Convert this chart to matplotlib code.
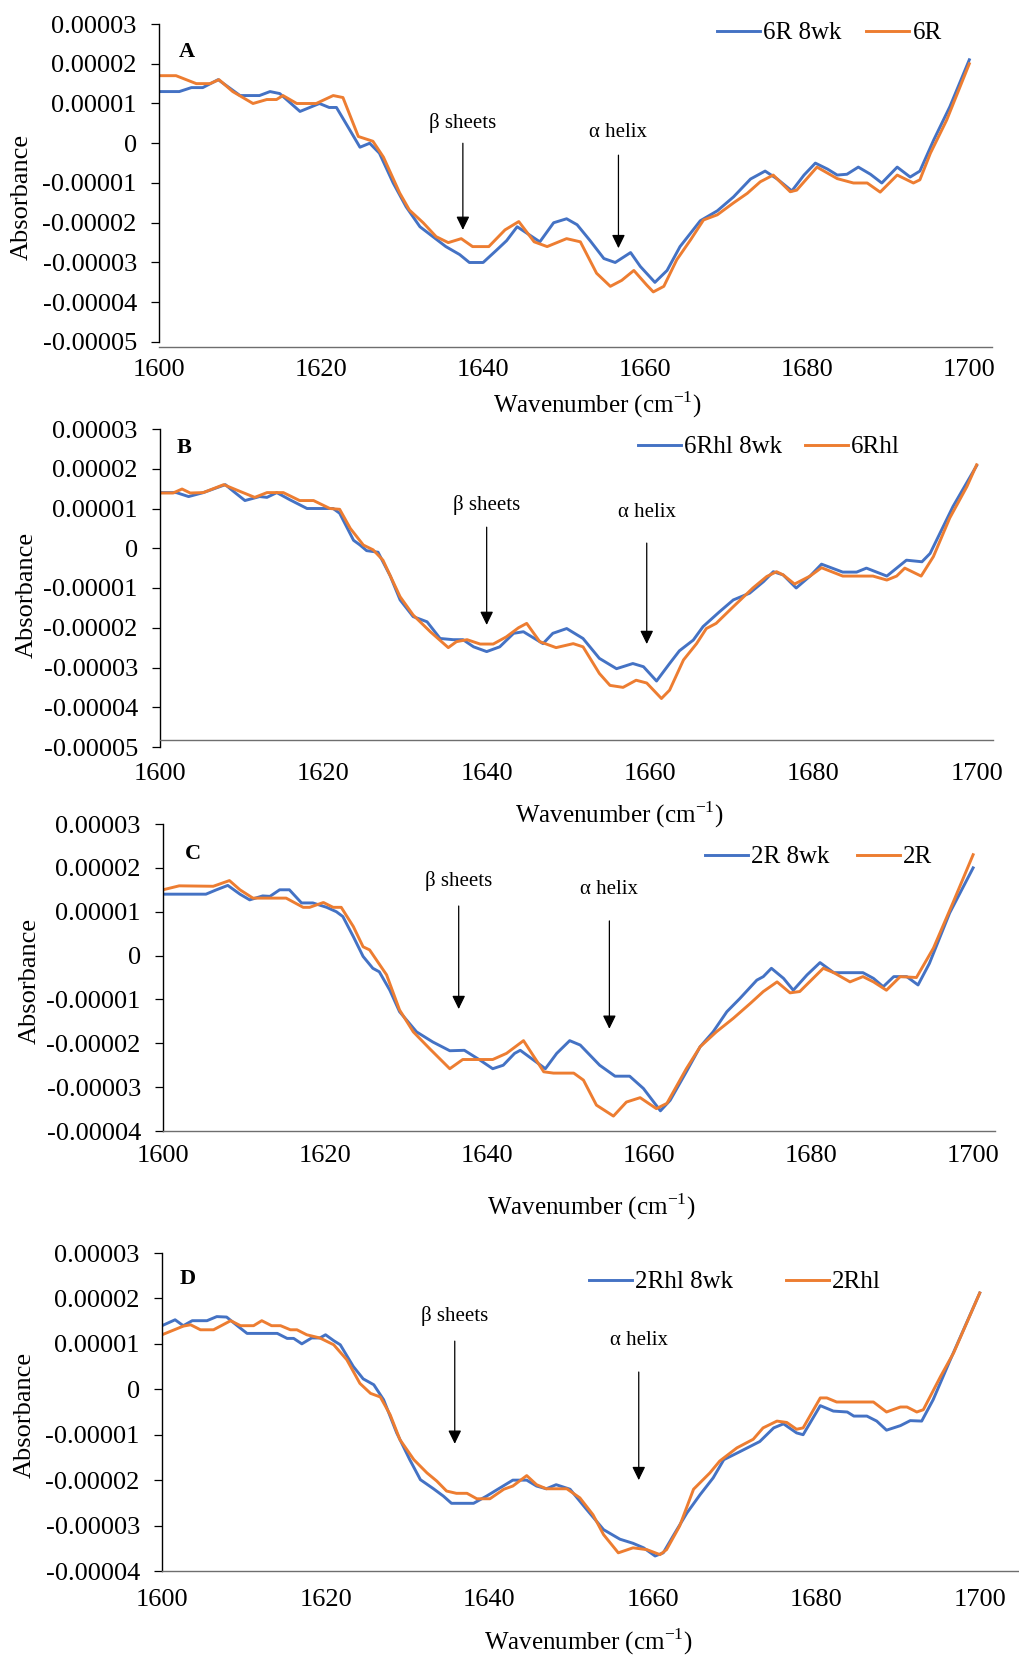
import numpy as np
import matplotlib
matplotlib.use("Agg")
import matplotlib.pyplot as plt

plt.rcParams['font.family'] = ['Liberation Serif', 'DejaVu Serif']
plt.rcParams['mathtext.fontset'] = 'custom'
plt.rcParams['mathtext.rm'] = 'Liberation Serif'

BLUE = '#4472C4'
ORANGE = '#ED7D31'
SCALE = 1e-5  # values below are in units of 1e-5

# panel A: 6R 8wk (blue) vs 6R (orange)
a_x_blue = [1600, 1602.5, 1604, 1605.4, 1607.3, 1610, 1612.4, 1613.7, 1614.9, 1617.4, 1619.8, 1621, 1621.9,
            1623.5, 1624.8, 1626, 1627.2, 1628.9, 1630.5, 1632.2, 1633.8, 1635.4, 1637.1, 1638.3, 1640,
            1641.6, 1642.9, 1644.2, 1647, 1648.7, 1650.3, 1651.6, 1653.2, 1654.9, 1656.3, 1658.2, 1659.4,
            1661.2, 1662.7, 1664.3, 1666.8, 1668.9, 1670.9, 1673, 1674.8, 1676.3, 1678.1, 1679.6, 1681,
            1682.5, 1683.7, 1684.9, 1686.3, 1687.8, 1689.2, 1691.1, 1692.7, 1693.9, 1695.6, 1697.6, 1700]
a_y_blue = [1.3, 1.3, 1.4, 1.4, 1.6, 1.2, 1.2, 1.3, 1.25, 0.8, 1.0, 0.9, 0.9,
            0.35, -0.1, 0.0, -0.25, -1.0, -1.6, -2.1, -2.35, -2.6, -2.8, -3.0, -3.0,
            -2.7, -2.45, -2.1, -2.48, -2.0, -1.9, -2.05, -2.45, -2.9, -3.0, -2.75, -3.1,
            -3.5, -3.2, -2.6, -1.95, -1.7, -1.35, -0.9, -0.7, -0.9, -1.2, -0.8, -0.5,
            -0.65, -0.8, -0.78, -0.6, -0.78, -1.0, -0.6, -0.85, -0.7, 0.08, 0.92, 2.1]
a_x_orange = [1600, 1602.1, 1604.6, 1606.3, 1607.4, 1609.1, 1611.6, 1613.3, 1614.5, 1615.3, 1617, 1619.4,
              1621.5, 1622.7, 1624.6, 1626.4, 1627.7, 1629.7, 1630.9, 1632.6, 1634.2, 1635.7, 1637.3,
              1638.7, 1640.7, 1642.7, 1644.4, 1646.3, 1647.9, 1650.3, 1652, 1654, 1655.7, 1657.1, 1658.6,
              1660.2, 1661, 1662.3, 1663.9, 1665.6, 1667.2, 1668.9, 1670.9, 1672.6, 1674.2, 1675.8,
              1677.9, 1678.7, 1681.2, 1683.7, 1685.7, 1687.4, 1689, 1691.1, 1693.1, 1693.9, 1695.2,
              1697.2, 1700]
a_y_orange = [1.7, 1.7, 1.5, 1.5, 1.6, 1.3, 1.0, 1.1, 1.1, 1.2, 1.0, 1.0,
              1.2, 1.15, 0.17, 0.05, -0.35, -1.25, -1.68, -2.0, -2.35, -2.5, -2.4,
              -2.6, -2.6, -2.18, -1.97, -2.48, -2.6, -2.4, -2.48, -3.27, -3.6, -3.45, -3.2,
              -3.57, -3.74, -3.6, -2.93, -2.43, -1.93, -1.8, -1.5, -1.26, -0.97, -0.8,
              -1.22, -1.18, -0.6, -0.89, -1.0, -1.0, -1.23, -0.8, -1.0, -0.92, -0.25,
              0.58, 2.0]

# panel B: 6Rhl 8wk (blue) vs 6Rhl (orange)
b_x_blue = [1600, 1602, 1603.5, 1605.3, 1608, 1609, 1610.4, 1612.2, 1613.1, 1614.3, 1615.9, 1618, 1621.2,
            1622, 1623.7, 1624.5, 1625.3, 1626.7, 1628.2, 1629.4, 1631, 1632.7, 1634.3, 1635.9, 1637.1,
            1638.4, 1640, 1641.6, 1643.3, 1644.5, 1646.9, 1648.1, 1649.8, 1651.8, 1653.8, 1655.9,
            1657.9, 1659.2, 1660.8, 1662.4, 1663.6, 1665.3, 1666.5, 1668.5, 1670.2, 1672.2, 1673.9,
            1675.1, 1676.3, 1677.9, 1679.6, 1681, 1683.6, 1685.3, 1686.5, 1689, 1691.4, 1693.3,
            1694.3, 1697.1, 1700]
b_y_blue = [1.4, 1.4, 1.3, 1.4, 1.6, 1.43, 1.2, 1.3, 1.28, 1.4, 1.22, 1.0, 1.0,
            0.88, 0.2, 0.08, -0.06, -0.1, -0.7, -1.3, -1.72, -1.85, -2.27, -2.3, -2.3,
            -2.48, -2.6, -2.48, -2.14, -2.1, -2.4, -2.14, -2.02, -2.27, -2.77, -3.03,
            -2.9, -2.98, -3.34, -2.9, -2.58, -2.31, -1.97, -1.6, -1.3, -1.13, -0.84,
            -0.59, -0.67, -1.0, -0.7, -0.4, -0.6, -0.6, -0.5, -0.7, -0.3, -0.34,
            -0.13, 1.05, 2.08]
b_x_orange = [1600, 1601.6, 1602.7, 1603.7, 1605.3, 1607.8, 1609.8, 1611.6, 1613.1, 1615.1, 1617.1,
              1618.8, 1620.8, 1622, 1623.3, 1624.9, 1626.1, 1627.3, 1629.4, 1631, 1633.1, 1635.3,
              1636.3, 1637.6, 1639.2, 1640.8, 1642.4, 1643.9, 1644.9, 1646.5, 1648.5, 1650.6, 1651.8,
              1653.8, 1655.1, 1656.7, 1658.3, 1659.6, 1661.4, 1662.4, 1664.1, 1665.7, 1666.9, 1668.1,
              1670.2, 1672.6, 1674.3, 1675.5, 1676.3, 1677.7, 1679.6, 1681, 1683.6, 1687.3, 1689,
              1690.2, 1691.2, 1693.2, 1694.7, 1696.7, 1698.8, 1700]
b_y_orange = [1.39, 1.39, 1.49, 1.39, 1.4, 1.6, 1.43, 1.28, 1.4, 1.4, 1.2,
              1.2, 1.0, 0.98, 0.5, 0.08, -0.04, -0.3, -1.22, -1.68, -2.1, -2.5,
              -2.35, -2.3, -2.41, -2.41, -2.23, -2.0, -1.89, -2.35, -2.5, -2.4, -2.48,
              -3.15, -3.45, -3.5, -3.32, -3.39, -3.78, -3.57, -2.81, -2.4, -2.02, -1.89,
              -1.47, -1.0, -0.71, -0.59, -0.67, -0.9, -0.7, -0.49, -0.7, -0.7, -0.8,
              -0.7, -0.5, -0.7, -0.21, 0.76, 1.55, 2.1]

# panel C: 2R 8wk (blue) vs 2R (orange)
c_x_blue = [1600, 1605.3, 1606.6, 1608, 1609.5, 1610.7, 1612.3, 1613.2, 1614.4, 1615.6, 1617.1, 1618.5,
            1620.2, 1621.4, 1622.2, 1623.5, 1624.7, 1625.9, 1626.7, 1628, 1629.2, 1631.3, 1633.3,
            1635.4, 1637.2, 1639.1, 1640.7, 1642, 1643.4, 1644.1, 1647.2, 1648.6, 1650.2, 1651.5,
            1653.9, 1655.8, 1657.6, 1659.3, 1661.4, 1662.6, 1664.6, 1666.3, 1667.9, 1669.6, 1671.2,
            1673.3, 1674.1, 1675.1, 1676.6, 1677.8, 1679.5, 1681.1, 1682.8, 1686.4, 1687.7, 1688.9,
            1690.2, 1691.8, 1693.2, 1694.6, 1697.1, 1700]
c_y_blue = [1.4, 1.4, 1.5, 1.6, 1.4, 1.27, 1.36, 1.35, 1.5, 1.5, 1.2, 1.2,
            1.1, 1.0, 0.89, 0.43, -0.02, -0.29, -0.37, -0.79, -1.28, -1.74, -1.97,
            -2.17, -2.16, -2.38, -2.58, -2.5, -2.23, -2.16, -2.58, -2.23, -1.94, -2.04,
            -2.5, -2.75, -2.75, -3.03, -3.54, -3.3, -2.65, -2.08, -1.74, -1.28, -0.98,
            -0.56, -0.48, -0.29, -0.52, -0.79, -0.44, -0.16, -0.39, -0.39, -0.52, -0.71,
            -0.48, -0.48, -0.67, -0.18, 0.97, 2.0]
c_x_orange = [1600, 1602, 1606.2, 1608.2, 1609.5, 1611.1, 1612.8, 1615.2, 1617.3, 1618.1, 1619.8, 1621,
              1622, 1623.5, 1624.7, 1625.5, 1627.6, 1629.2, 1630.9, 1632.9, 1635.4, 1637, 1638.7,
              1640.7, 1642.4, 1644.5, 1647, 1648.2, 1650.7, 1651.9, 1653.5, 1655.6, 1657.2, 1658.9,
              1660.9, 1662.2, 1664.6, 1666.3, 1668.3, 1670.4, 1672.5, 1674.1, 1675.8, 1677.4, 1678.6,
              1681.5, 1682.8, 1684.8, 1686.4, 1687.7, 1689.3, 1691, 1693, 1695.1, 1697.5, 1700]
c_y_orange = [1.5, 1.59, 1.58, 1.71, 1.5, 1.31, 1.31, 1.31, 1.1, 1.1, 1.21, 1.1,
              1.1, 0.66, 0.2, 0.13, -0.44, -1.24, -1.74, -2.12, -2.58, -2.37, -2.37,
              -2.37, -2.23, -1.94, -2.65, -2.68, -2.68, -2.84, -3.41, -3.66, -3.34, -3.24,
              -3.49, -3.37, -2.58, -2.08, -1.74, -1.43, -1.09, -0.82, -0.6, -0.85, -0.82,
              -0.29, -0.39, -0.6, -0.48, -0.6, -0.79, -0.48, -0.5, 0.17, 1.2, 2.3]

# panel D: 2Rhl 8wk (blue) vs 2Rhl (orange)
d_x_blue = [1600, 1601.6, 1602.6, 1603.7, 1605.5, 1606.7, 1607.9, 1609.2, 1610.4, 1614.1, 1615.3, 1616.1,
            1617.1, 1618.3, 1619.3, 1620, 1621, 1621.8, 1623.4, 1624.6, 1625.9, 1627.1, 1628.7, 1630.3,
            1631.6, 1633.2, 1634.4, 1635.4, 1638.1, 1639.7, 1641.8, 1642.9, 1644.6, 1645.8, 1647,
            1648.2, 1649.9, 1651.9, 1654, 1656, 1657.6, 1658.9, 1660.3, 1661.3, 1662.5, 1664.2,
            1665.8, 1667.4, 1668.7, 1670.7, 1673.1, 1674.8, 1676, 1677.6, 1678.4, 1680.5, 1682.1,
            1683.8, 1684.6, 1686.2, 1687.4, 1688.6, 1690.3, 1691.5, 1692.9, 1694.3, 1696.4, 1700]
d_y_blue = [1.4, 1.53, 1.4, 1.51, 1.51, 1.6, 1.59, 1.4, 1.23, 1.23, 1.12, 1.12,
            1.0, 1.13, 1.13, 1.2, 1.07, 0.98, 0.5, 0.23, 0.1, -0.23, -0.96, -1.55,
            -1.99, -2.19, -2.35, -2.51, -2.51, -2.35, -2.12, -2.0, -2.0, -2.13, -2.19,
            -2.1, -2.2, -2.64, -3.09, -3.3, -3.39, -3.49, -3.67, -3.6, -3.23, -2.72,
            -2.32, -1.95, -1.55, -1.37, -1.15, -0.85, -0.76, -0.96, -1.0, -0.36, -0.48,
            -0.5, -0.59, -0.59, -0.7, -0.9, -0.8, -0.69, -0.7, -0.23, 0.65, 2.12]
d_x_orange = [1600, 1602.6, 1603.5, 1604.7, 1606.3, 1608.4, 1609.6, 1611.2, 1612.2, 1613.4, 1614.5,
              1615.7, 1616.5, 1617.7, 1619.3, 1621, 1622.6, 1624.2, 1625.5, 1626.7, 1627.9, 1629.1,
              1630.8, 1632.4, 1633.6, 1634.8, 1636, 1637.3, 1638.5, 1640.1, 1641.8, 1642.9, 1644.6,
              1645.8, 1647, 1649.5, 1651.1, 1652.7, 1654, 1655.8, 1657.6, 1659.3, 1660.9, 1661.7,
              1663.3, 1665, 1667, 1668.2, 1670.3, 1672.3, 1673.5, 1675.2, 1676.4, 1677.6, 1678.4,
              1680.5, 1681.3, 1682.5, 1687, 1688.6, 1690.3, 1691.1, 1692.3, 1693.1, 1695.2, 1696.8, 1700]
d_y_orange = [1.2, 1.39, 1.42, 1.31, 1.31, 1.51, 1.4, 1.4, 1.51, 1.4, 1.4,
              1.31, 1.31, 1.2, 1.13, 0.98, 0.65, 0.13, -0.09, -0.17, -0.56, -1.11,
              -1.55, -1.84, -2.02, -2.24, -2.29, -2.29, -2.41, -2.41, -2.2, -2.13, -1.9,
              -2.1, -2.19, -2.19, -2.39, -2.76, -3.2, -3.6, -3.49, -3.53, -3.64, -3.53,
              -3.01, -2.2, -1.84, -1.58, -1.29, -1.1, -0.85, -0.7, -0.73, -0.88, -0.85,
              -0.19, -0.19, -0.28, -0.28, -0.5, -0.39, -0.39, -0.5, -0.45, 0.28, 0.8, 2.12]

labels_blue = ['6R 8wk', '6Rhl 8wk', '2R 8wk', '2Rhl 8wk']
labels_orange = ['6R', '6Rhl', '2R', '2Rhl']
letters = ['A', 'B', 'C', 'D']
yticks_ab = [3, 2, 1, 0, -1, -2, -3, -4, -5]
yticks_cd = [3, 2, 1, 0, -1, -2, -3, -4]
xticks = [1600, 1620, 1640, 1660, 1680, 1700]

W, H = 1019, 1659
fig = plt.figure(figsize=(W / 100, H / 100), dpi=100)
fig.patch.set_facecolor('white')

# pixel layout for each panel
panels = [
    dict(L=159, R=992, T=24, B=347, xmax=1702.8, ylo=-5.126, yticks=yticks_ab, xspine=None, xpad=9,
         data=(a_x_blue, a_y_blue, a_x_orange, a_y_orange),
         leg=(717, 33, 1.0), ylab=(22, 197), xlab=(597, 405), letter=(187, 52),
         beta=(1637.5, 0.5, 0.0, -2.18), alpha=(1656.7, 0.28, -0.3, -2.64)),
    dict(L=160, R=993, T=429, B=747, xmax=1702.0, ylo=-5.0, yticks=yticks_ab, xspine=-4.82, xpad=17,
         data=(b_x_blue, b_y_blue, b_x_orange, b_y_orange),
         leg=(638, 447, 0.9), ylab=(27, 595), xlab=(619, 815), letter=(184, 448),
         beta=(1640.0, 1.09, 0.53, -1.93), alpha=(1659.6, 0.89, 0.13, -2.41)),
    dict(L=163, R=995, T=824, B=1131, xmax=1702.7, ylo=-4.0, yticks=yticks_cd, xspine=None, xpad=10,
         data=(c_x_blue, c_y_blue, c_x_orange, c_y_orange),
         leg=(705, 857, 1.1), ylab=(30, 981), xlab=(591, 1207), letter=(193, 854),
         beta=(1636.5, 1.70, 1.13, -1.22), alpha=(1655.1, 1.50, 0.79, -1.67)),
    dict(L=162, R=1019, T=1253, B=1571, xmax=1704.8, ylo=-4.0, yticks=yticks_cd, xspine=None, xpad=13,
         data=(d_x_blue, d_y_blue, d_x_orange, d_y_orange),
         leg=(589, 1282, 2.1), ylab=(25, 1415), xlab=(588, 1642), letter=(188, 1279),
         beta=(1635.8, 1.61, 1.06, -1.20), alpha=(1658.3, 1.08, 0.38, -2.0)),
]

TICK_FS = 19
LABEL_FS = 18
LEG_FS = 18
NOTE_FS = 15
for i, p in enumerate(panels):
    ax = fig.add_axes([p['L'] / W, 1 - p['B'] / H, (p['R'] - p['L']) / W, (p['B'] - p['T']) / H])

    # spines first: moving a spine resets the tick styling
    for s in ['top', 'right']:
        ax.spines[s].set_visible(False)
    if p['xspine'] is not None:
        ax.spines['bottom'].set_position(('data', p['xspine'] * SCALE))
    ax.spines['left'].set_linewidth(1.0)
    ax.spines['left'].set_color('black')
    ax.spines['bottom'].set_color('#6e6e6e')
    ax.spines['bottom'].set_linewidth(1.0)
    ax.set_facecolor('none')

    xb, yb, xo, yo = p['data']
    ax.plot(xb, np.array(yb) * SCALE, color=BLUE, lw=2.1, label=labels_blue[i], solid_joinstyle='round')
    ax.plot(xo, np.array(yo) * SCALE, color=ORANGE, lw=2.1, label=labels_orange[i], solid_joinstyle='round')
    ax.set_xlim(1600, p['xmax'])
    ax.set_ylim(p['ylo'] * SCALE, 3 * SCALE)
    ax.spines['left'].set_bounds(p['yticks'][-1] * SCALE, 3 * SCALE)

    ax.set_yticks([v * SCALE for v in p['yticks']])
    ax.set_yticklabels(['0' if v == 0 else '%.5f' % (v * SCALE) for v in p['yticks']], fontsize=TICK_FS)
    ax.set_xticks(xticks)
    ax.set_xticklabels([str(v) for v in xticks], fontsize=TICK_FS)
    ax.tick_params(axis='y', direction='out', length=6, width=0.9, pad=10, color='black')
    ax.tick_params(axis='x', length=0, pad=p['xpad'])

    # structure annotations
    bx, bt, bs, btip = p['beta']
    ax.text(bx, bt * SCALE, '\u03b2 sheets', ha='center', va='center', fontsize=NOTE_FS)
    ax.annotate('', xy=(bx, btip * SCALE), xytext=(bx, bs * SCALE),
                arrowprops=dict(arrowstyle='-|>,head_length=0.45,head_width=0.22', color='black',
                                lw=0.9, mutation_scale=18, shrinkA=0, shrinkB=0))
    hx, ht, hs, htip = p['alpha']
    ax.text(hx, ht * SCALE, '\u03b1 helix', ha='center', va='center', fontsize=NOTE_FS)
    ax.annotate('', xy=(hx, htip * SCALE), xytext=(hx, hs * SCALE),
                arrowprops=dict(arrowstyle='-|>,head_length=0.45,head_width=0.22', color='black',
                                lw=0.9, mutation_scale=18, shrinkA=0, shrinkB=0))

    lx, ly, cs = p['leg']
    ax.legend(loc='center left', bbox_to_anchor=(lx / W, 1 - ly / H), bbox_transform=fig.transFigure,
              ncol=2, frameon=False, fontsize=LEG_FS, handlelength=1.72, handletextpad=0.12,
              columnspacing=cs, borderpad=0, borderaxespad=0)

    fig.text(p['letter'][0] / W, 1 - p['letter'][1] / H, letters[i], fontsize=16, fontweight='bold',
             ha='center', va='center')
    fig.text(p['ylab'][0] / W, 1 - p['ylab'][1] / H, 'Absorbance', rotation=90, fontsize=19,
             ha='center', va='center')
    fig.text(p['xlab'][0] / W, 1 - p['xlab'][1] / H, 'Wavenumber (cm$^{-1}$)', fontsize=LABEL_FS,
             ha='center', va='center')

fig.savefig('out.png', dpi=100, facecolor='white')
